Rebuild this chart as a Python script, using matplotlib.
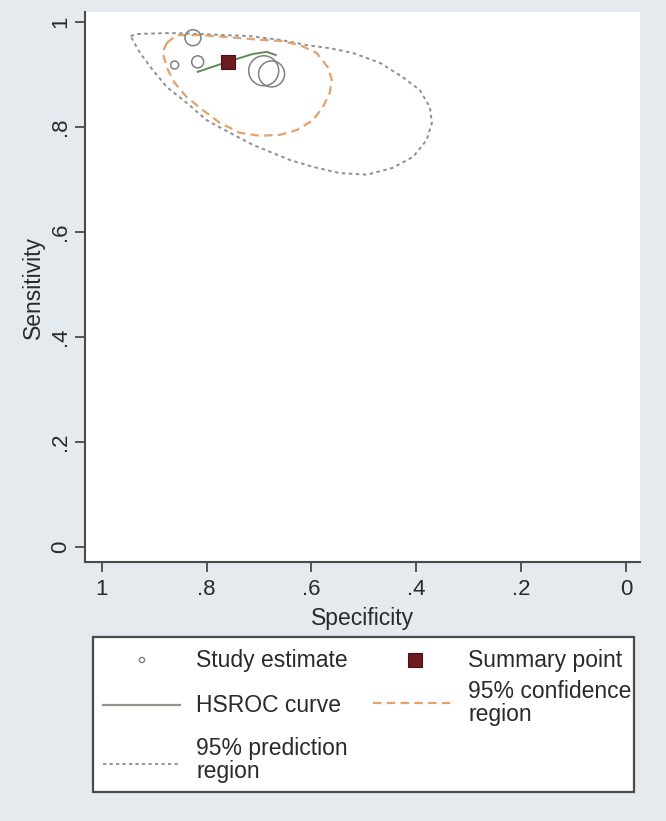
import matplotlib
matplotlib.use("Agg")
import matplotlib.pyplot as plt
from matplotlib.lines import Line2D
from matplotlib.patches import Rectangle

# ==========================================
# DATA
# ==========================================
study_spec = [0.826, 0.817, 0.861, 0.691, 0.676]
study_sens = [0.970, 0.924, 0.918, 0.907, 0.901]
study_size = [133, 75, 33, 467, 350]

summary_spec = [0.760]
summary_sens = [0.924]

hsroc_spec = [0.817, 0.760, 0.712, 0.685, 0.668]
hsroc_sens = [0.905, 0.924, 0.939, 0.943, 0.937]

conf_spec = [0.876, 0.857, 0.813, 0.756, 0.698, 0.660, 0.622, 0.590, 0.569,
             0.561, 0.565, 0.578, 0.597, 0.628, 0.660, 0.698, 0.737, 0.775,
             0.807, 0.838, 0.861, 0.874, 0.884]
conf_sens = [0.960, 0.975, 0.975, 0.971, 0.966, 0.964, 0.956, 0.941, 0.914,
             0.890, 0.865, 0.838, 0.813, 0.794, 0.785, 0.783, 0.789, 0.808,
             0.832, 0.857, 0.884, 0.909, 0.941]

pred_spec = [0.945, 0.933, 0.870, 0.813, 0.718, 0.660, 0.609, 0.565, 0.521,
             0.469, 0.426, 0.393, 0.374, 0.370, 0.380, 0.406, 0.445, 0.494,
             0.546, 0.597, 0.641, 0.712, 0.756, 0.800, 0.838, 0.876, 0.903,
             0.927]
pred_sens = [0.973, 0.977, 0.979, 0.977, 0.973, 0.966, 0.956, 0.950, 0.941,
             0.922, 0.895, 0.870, 0.838, 0.808, 0.775, 0.743, 0.722, 0.709,
             0.712, 0.724, 0.737, 0.766, 0.789, 0.813, 0.846, 0.876, 0.909,
             0.941]

ticks = [1, 0.8, 0.6, 0.4, 0.2, 0]
tick_labels = ["1", ".8", ".6", ".4", ".2", "0"]

legend_labels = ["Study estimate", "Summary point", "HSROC curve",
                 "95% confidence\nregion", "95% prediction\nregion"]

# ==========================================
# STYLE
# ==========================================
plt.rcParams["font.family"] = ["Liberation Sans", "DejaVu Sans"]
bg = "#e4eaee"
grey_axis = "#4a4a4a"
circle_col = "#808080"
summary_col = "#6e1a22"
hsroc_col = "#5f8a55"
conf_col = "#e3a26c"
pred_col = "#8a9097"

conf_dash = (3.8, 2.4)
pred_dash = (1.8, 1.8)

W, H = 666, 821
fig = plt.figure(figsize=(W / 100, H / 100), dpi=100, facecolor=bg)

# plot area in pixels: left 85, right 640, top 12, bottom 562
ax = fig.add_axes([85 / W, 1 - 562 / H, (640 - 85) / W, (562 - 12) / H])
ax.set_facecolor("white")

# ==========================================
# DRAW
# ==========================================
ax.plot(pred_spec + pred_spec[:1], pred_sens + pred_sens[:1],
        color=pred_col, lw=1.4, dashes=pred_dash)
ax.plot(conf_spec + conf_spec[:1], conf_sens + conf_sens[:1],
        color=conf_col, lw=1.6, dashes=conf_dash)
ax.scatter(study_spec, study_sens, s=study_size, facecolors="none",
           edgecolors=circle_col, linewidths=1.1, zorder=3)
ax.plot(hsroc_spec, hsroc_sens, color=hsroc_col, lw=1.4, zorder=4)
ax.plot(summary_spec, summary_sens, ls="none", marker="s", ms=9.5,
        mfc=summary_col, mec="#4a1015", mew=0.8, zorder=5)

# ==========================================
# AXES
# ==========================================
ax.set_xlim(1.032, -0.027)
ax.set_ylim(-0.029, 1.019)
ax.set_xticks(ticks)
ax.set_xticklabels(tick_labels)
ax.set_yticks(ticks)
ax.set_yticklabels(tick_labels, rotation=90, va="center")
ax.tick_params(direction="out", length=7, width=1.3, color=grey_axis,
               labelsize=16, labelcolor="#2a2a2a", pad=5)
ax.tick_params(axis="y", pad=3)
for side in ["top", "right"]:
    ax.spines[side].set_visible(False)
for side in ["left", "bottom"]:
    ax.spines[side].set_color(grey_axis)
    ax.spines[side].set_linewidth(1.5)

ax.set_xlabel("Specificity", fontsize=16.5, color="#2a2a2a")
ax.set_ylabel("Sensitivity", fontsize=16.5, color="#2a2a2a")
ax.xaxis.set_label_coords(0.5, -0.082)
ax.yaxis.set_label_coords(-0.072, 0.5)

# ==========================================
# LEGEND (box at x 93..634, y 637..792)
# ==========================================
lax = fig.add_axes([93 / W, 1 - 792 / H, (634 - 93) / W, (792 - 637) / H])
lax.set_xlim(0, 541)
lax.set_ylim(155, 0)
lax.axis("off")
lax.add_patch(Rectangle((0, 0), 541, 155, facecolor="white",
                        edgecolor=grey_axis, lw=1.6, clip_on=False))

lax.scatter([49], [23], s=14, facecolors="none", edgecolors=circle_col,
            linewidths=1.0)
lax.plot([322], [23], ls="none", marker="s", ms=9.5, mfc=summary_col,
         mec="#4a1015", mew=0.8)
lax.add_line(Line2D([10, 87], [68, 68], color="#8f9688", lw=1.6))
lax.add_line(Line2D([280, 362], [66, 66], color=conf_col, lw=1.6,
                    dashes=conf_dash))
lax.add_line(Line2D([10, 87], [127, 127], color=pred_col, lw=1.3,
                    dashes=pred_dash))

text_pos = [(103, 23), (375, 23), (103, 68), (375, 66), (103, 123)]
for (tx, ty), lab in zip(text_pos, legend_labels):
    lax.text(tx, ty, lab, fontsize=16.5, color="#2a2a2a", va="center",
             ha="left", linespacing=0.95)

fig.savefig("out.png", dpi=100, facecolor=bg)
